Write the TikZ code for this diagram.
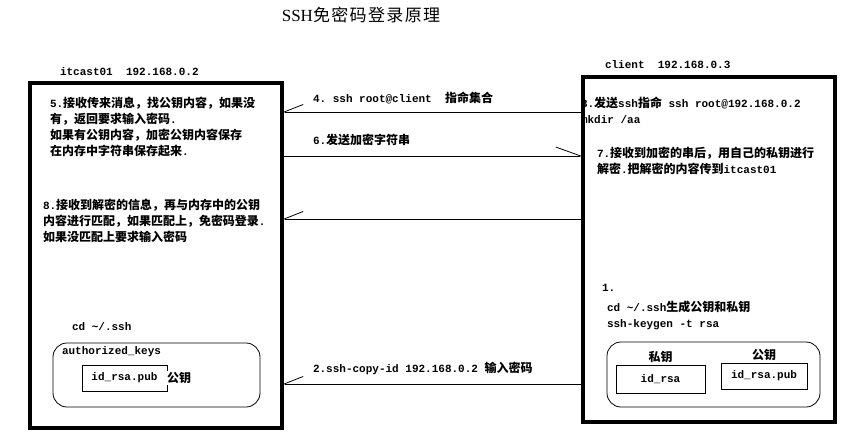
\documentclass[tikz,border=0pt]{standalone}
\usepackage{fontspec}
\setmainfont{Liberation Serif}
\setmonofont{Liberation Mono}
\newfontfamily\zhfont{Noto Sans CJK SC}
\newfontfamily\zhtitle[LetterSpace=8]{Noto Sans CJK SC}
\usetikzlibrary{arrows.meta}
\usetikzlibrary{positioning}

\newcommand{\zh}[1]{{\zhfont\bfseries\fontsize{12}{16}\selectfont #1}}

\begin{document}
\begin{tikzpicture}[x=1pt,y=-1pt,
  every node/.style={inner sep=0pt,outer sep=0pt},
  host/.style={draw,line width=4pt,minimum width=252pt,minimum height=345pt},
  keyring/.style={draw,line width=0.8pt,rounded corners=14pt},
  keyfile/.style={draw,line width=0.8pt,font=\ttfamily\bfseries\fontsize{11}{14}\selectfont},
  msg/.style={font=\ttfamily\bfseries\fontsize{11}{16}\selectfont,align=left},
  tohost/.style={line width=0.8pt,-{Straight Barb[harpoon,swap,length=19pt,width=15pt]}},
  toclient/.style={line width=0.8pt,-{Straight Barb[harpoon,length=25pt,width=18pt]}}]
  \fill[white] (0,0) rectangle (847,439);
  \useasboundingbox (0,0) rectangle (847,439);

  \node (title) at (361,15) {\fontsize{17}{20}\selectfont SSH{\zhtitle 免密码登录原理}};
  \node[msg,anchor=west] (srvname) at (60,72) {itcast01\ \ 192.168.0.2};
  \node[msg,anchor=west] (cliname) at (605,65) {client\ \ 192.168.0.3};

  % itcast01
  \node[msg,anchor=north west] (recv5) at (50,97)
    {5.\zh{接收传来消息，找公钥内容，如果没}\\
     \zh{有，返回要求输入密码}.\\
     \zh{如果有公钥内容，加密公钥内容保存}\\
     \zh{在内存中字符串保存起来}.};
  \node[msg,anchor=north west] (recv8) at (43,199)
    {8.\zh{接收到解密的信息，再与内存中的公钥}\\
     \zh{内容进行匹配，如果匹配上，免密码登录}.\\
     \zh{如果没匹配上要求输入密码}};
  \node[msg,anchor=west] (cdsrv) at (72,327) {cd \textasciitilde/.ssh};
  \node[keyring,minimum width=207pt,minimum height=64pt] (authk) at (156.5,375) {};
  \node[msg,anchor=west] (authname) at (62,352) {authorized\_keys};
  \node[keyfile,minimum width=85pt,minimum height=26pt] (pubsrv) at (124.5,378) {id\_rsa.pub};
  \node[fill=white,inner sep=1pt,right=-1pt of pubsrv] (pubsrvlbl) {\zh{公钥}};

  % client
  \node[msg,anchor=north west] (send3) at (581,97)
    {3.\zh{发送}ssh\zh{指命} ssh root@192.168.0.2\\
     mkdir /aa};
  \node[msg,anchor=north west] (recv7) at (597,147)
    {7.\zh{接收到加密的串后，用自己的私钥进行}\\
     \zh{解密}.\zh{把解密的内容传到}itcast01};
  \node[msg,anchor=west] (step1) at (602,288) {1.};
  \node[msg,anchor=north west] (keygen) at (607,301)
    {cd \textasciitilde/.ssh\zh{生成公钥和私钥}\\
     ssh-keygen -t rsa};
  \node[keyring,minimum width=213pt,minimum height=65pt] (keyring) at (713.5,374.5) {};
  \node[keyfile,minimum width=89pt,minimum height=28pt] (prvcli) at (660.5,379) {id\_rsa};
  \node[keyfile,minimum width=86pt,minimum height=26pt] (pubcli) at (764,376) {id\_rsa.pub};
  \node[above=2pt of prvcli] (prvlbl) {\zh{私钥}};
  \node[above=2pt of pubcli] (publbl) {\zh{公钥}};

  \node[host] (srv) at (156,255.5) {};
  \node[host] (cli) at (709,249) {};

  % arrows
  \node[msg,anchor=west] (lbl4) at (313,98) {4. ssh root@client\ \ \zh{指命集合}};
  \node[msg,anchor=west] (lbl6) at (313,140) {6.\zh{发送加密字符串}};
  \node[msg,anchor=west] (lbl2) at (313,368) {2.ssh-copy-id 192.168.0.2 \zh{输入密码}};
  \draw[tohost] (cli.west |- 0,112) -- (srv.east |- 0,112);
  \draw[toclient] (srv.east |- 0,156) -- (cli.west |- 0,156);
  \draw[tohost] (cli.west |- 0,219) -- (srv.east |- 0,219);
  \draw[tohost] (cli.west |- 0,384) -- (srv.east |- 0,384);
\end{tikzpicture}
\end{document}
